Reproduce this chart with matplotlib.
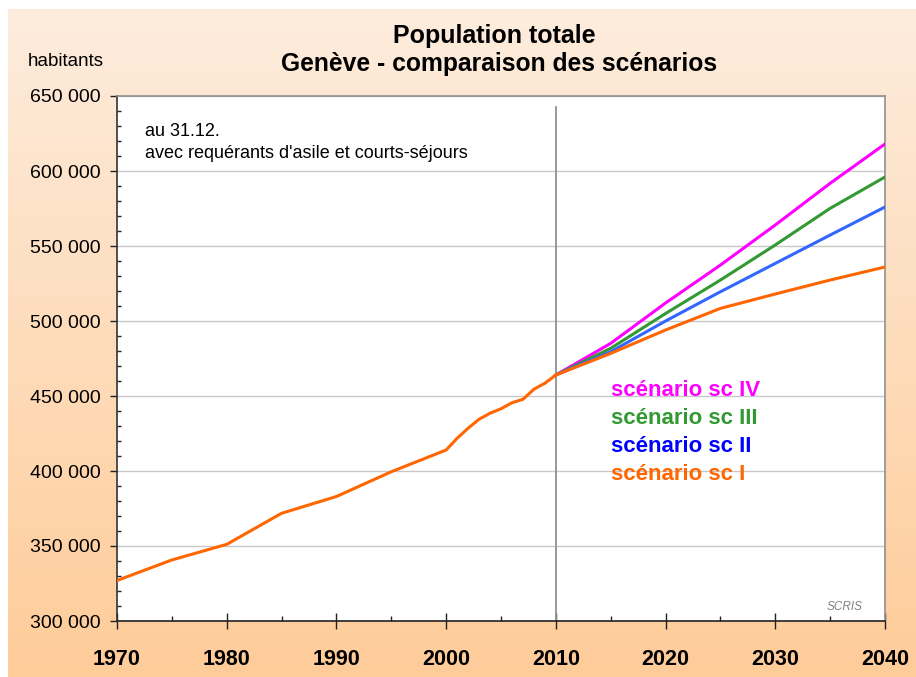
import matplotlib
matplotlib.use("Agg")
import matplotlib.pyplot as plt
import numpy as np
from matplotlib.ticker import MultipleLocator, FuncFormatter

plt.rcParams['font.family'] = ['Liberation Sans', 'DejaVu Sans']

# population observee
years_hist = [1970, 1975, 1980, 1985, 1990, 1995, 2000, 2001, 2002, 2003,
              2004, 2005, 2006, 2007, 2008, 2009, 2010]
pop_hist = [327000, 340700, 351100, 371800, 383000, 399500, 414000, 421800,
            428500, 434500, 438500, 441500, 445500, 447800, 454500, 458500,
            464000]

# projections par scenario
years_proj = [2010, 2015, 2020, 2025, 2030, 2035, 2040]
sc_I = [464000, 478400, 494000, 508400, 518000, 527300, 536000]
sc_II = [464000, 479500, 500000, 519500, 538400, 557300, 576000]
sc_III = [464000, 481800, 505000, 527300, 550700, 575100, 596000]
sc_IV = [464000, 485100, 512000, 537300, 564000, 591800, 618000]

scen_labels = ["scénario sc IV", "scénario sc III", "scénario sc II", "scénario sc I"]

W, H = 916, 677
fig = plt.figure(figsize=(W / 100, H / 100), dpi=100, facecolor='white')

# fond degrade peche
bg = fig.add_axes([8 / W, 0, 1 - 8 / W, 1 - 9 / H])
top = np.array([253, 236, 221]) / 255
bot = np.array([255, 204, 153]) / 255
t = np.linspace(0, 1, 256)[:, None]
grad = (top[None, :] * (1 - t) + bot[None, :] * t)[:, None, :]
bg.imshow(grad, aspect='auto', extent=[0, 1, 0, 1])
bg.set_axis_off()

ax = fig.add_axes([117 / W, (H - 621) / H, 768 / W, 525 / H])
ax.set_facecolor('white')

ax.plot(years_proj, sc_IV, color='#FF00FF', lw=2.2, zorder=3)
ax.plot(years_proj, sc_III, color='#339933', lw=2.2, zorder=3)
ax.plot(years_proj, sc_II, color='#3366FF', lw=2.2, zorder=3)
ax.plot(years_proj, sc_I, color='#FF6600', lw=2.2, zorder=4)
ax.plot(years_hist, pop_hist, color='#FF6600', lw=2.2, zorder=4)

ax.set_xlim(1970, 2040)
ax.set_ylim(300000, 650000)

ax.yaxis.set_major_locator(MultipleLocator(50000))
ax.yaxis.set_minor_locator(MultipleLocator(10000))
ax.xaxis.set_major_locator(MultipleLocator(10))
ax.xaxis.set_minor_locator(MultipleLocator(5))
ax.yaxis.set_major_formatter(FuncFormatter(lambda v, p: '{:,}'.format(int(v)).replace(',', ' ')))

ax.grid(axis='y', which='major', color='#C8C8C8', lw=1)
ax.axvline(2010, ymax=(643000 - 300000) / 350000, color='#909090', lw=1.3, zorder=2)

ax.tick_params(axis='y', which='major', direction='out', length=5, width=1,
               labelsize=14, pad=7, colors='#222222', labelcolor='black')
ax.tick_params(axis='y', which='minor', direction='in', length=3, width=1, colors='#222222')
ax.tick_params(axis='x', which='major', direction='inout', length=11, width=1,
               labelsize=15.5, pad=15, colors='#222222', labelcolor='black')
ax.tick_params(axis='x', which='minor', direction='in', length=3.5, width=1, colors='#222222')
for lab in ax.get_xticklabels():
    lab.set_fontweight('bold')

ax.spines['top'].set_color('#909090')
ax.spines['right'].set_color('#909090')
ax.spines['left'].set_color('#333333')
ax.spines['bottom'].set_color('#222222')
for s in ax.spines.values():
    s.set_linewidth(1.2)

# titres et textes
fig.text(494 / W, 1 - 36 / H, "Population totale", ha='center', va='center',
         fontsize=18, fontweight='bold')
fig.text(499 / W, 1 - 64 / H, "Genève - comparaison des scénarios", ha='center',
         va='center', fontsize=17.7, fontweight='bold')
fig.text(28 / W, 1 - 62 / H, "habitants", ha='left', va='center', fontsize=13.5)
fig.text(145 / W, 1 - 131 / H, "au 31.12.", ha='left', va='center', fontsize=13)
fig.text(145 / W, 1 - 153 / H, "avec requérants d'asile et courts-séjours",
         ha='left', va='center', fontsize=13)
fig.text(827 / W, 1 - 607 / H, "SCRIS", ha='left', va='center', fontsize=8.5,
         style='italic', color='#808080')

scen_colors = ['#FF00FF', '#339933', '#0000FF', '#FF6600']
scen_y = [390, 418, 446, 474]
for lab, c, yy in zip(scen_labels, scen_colors, scen_y):
    fig.text(611 / W, 1 - yy / H, lab, ha='left', va='center', fontsize=16,
             fontweight='bold', color=c)

fig.savefig("out.png", dpi=100, facecolor=fig.get_facecolor())
